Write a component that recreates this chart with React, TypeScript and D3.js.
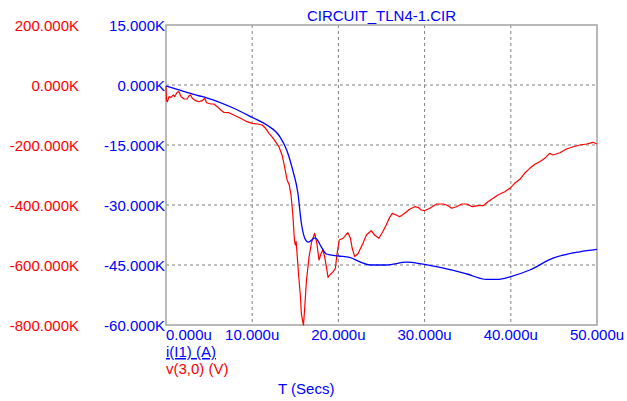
import React from "react";
import * as d3 from "d3";

// time in microseconds
const blueT = [0, 1.6, 3.9, 4.7, 7.8, 10.0, 11.7, 13.2, 14.0, 14.7, 15.3, 15.7, 16.1, 16.5, 17.3, 18.1, 18.6, 20.0, 21.3, 22.5, 23.7, 25.6, 27.9, 29.8, 32.2, 34.9, 37.2, 38.4, 40.0, 42.2, 44.9, 48.0, 50.0];
// i(I1) in K(A)
const blueI = [-0.25, -1.3, -2.75, -3.2, -5.75, -8.1, -10.0, -12.9, -16.25, -21.25, -27.0, -34.5, -38.3, -39.3, -38.2, -40.8, -42.25, -42.75, -43.1, -44.2, -45.0, -45.0, -44.3, -44.8, -45.8, -47.25, -48.6, -48.6, -47.9, -46.25, -43.3, -41.7, -41.1];

const redT = [0, 0.05, 0.15, 0.35, 0.6, 0.85, 1.0, 1.3, 1.5, 1.75, 2.1, 2.45, 2.65, 2.85, 3.05, 3.45, 3.8, 4.2, 4.5, 4.7, 5.2, 5.55, 5.95, 6.35, 6.7, 7.3, 7.85, 8.65, 9.4, 10.0, 10.6, 11.15, 11.55, 11.95, 12.35, 12.7, 13.1, 13.5, 13.75, 14.05, 14.3, 14.5, 14.7, 14.9, 15.0, 15.1, 15.2, 15.4, 15.6, 15.7, 15.9, 15.95, 16.1, 16.3, 16.6, 16.9, 17.25, 17.5, 17.75, 18.0, 18.2, 18.4, 18.6, 18.8, 19.0, 19.4, 19.65, 19.85, 20.1, 20.55, 20.85, 21.1, 21.4, 21.6, 21.9, 22.3, 22.85, 23.25, 23.8, 24.2, 24.7, 25.15, 25.55, 25.95, 26.25, 26.7, 27.1, 27.7, 28.25, 28.85, 29.25, 29.6, 30.0, 30.6, 31.4, 32.15, 32.55, 33.15, 33.7, 34.3, 34.9, 35.55, 36.2, 36.8, 37.35, 37.95, 38.5, 39.3, 39.9, 40.45, 41.05, 41.6, 42.2, 42.8, 43.35, 43.95, 44.5, 44.9, 45.7, 46.45, 47.25, 48.0, 48.8, 49.55, 50.0];
// v(3,0) in K(V)
const redV = [-3.3, -50, -55.7, -39, -41, -33, -39, -24.3, -22.3, -39, -46.7, -46.7, -36.7, -33.3, -44.3, -52.3, -55.7, -52.3, -44.3, -59, -63.3, -63.3, -72.3, -83.3, -91, -92.3, -100, -111, -122.3, -127.7, -130, -133.3, -144.3, -161, -174.3, -189, -205.7, -236.7, -272.3, -316.7, -333, -366.7, -427.7, -516.7, -533.3, -522.3, -561, -639, -705.7, -761, -794.3, -800, -739, -650, -572.3, -522.3, -494.3, -527.7, -583.3, -561, -550, -572.3, -605.7, -641, -633.3, -622.3, -611, -561, -516.7, -511, -500, -492.3, -511, -544.3, -572.3, -561, -527.7, -500, -485.7, -500, -511, -489, -466.7, -441, -427.7, -433.3, -439, -427.7, -414.3, -405.7, -407.7, -416.7, -419, -411, -396.7, -396.7, -400, -411, -405.7, -396.7, -396.7, -405.7, -402.3, -402.3, -389, -377.7, -366.7, -355.7, -344.3, -327.7, -314.3, -294.3, -277.7, -264.3, -255.7, -244.3, -227.7, -233.3, -225.7, -213.3, -205.7, -200, -196.7, -191, -196.7];

const xTicks = [0, 10, 20, 30, 40, 50];
const xTickLabels = ["0.000u", "10.000u", "20.000u", "30.000u", "40.000u", "50.000u"];
const blueTicks = [15, 0, -15, -30, -45, -60];
const blueTickLabels = ["15.000K", "0.000K", "-15.000K", "-30.000K", "-45.000K", "-60.000K"];
const redTicks = [200, 0, -200, -400, -600, -800];
const redTickLabels = ["200.000K", "0.000K", "-200.000K", "-400.000K", "-600.000K", "-800.000K"];

const title = "CIRCUIT_TLN4-1.CIR";
const blueName = "i(I1) (A)";
const redName = "v(3,0) (V)";
const xName = "T (Secs)";

const W = 627, H = 401;
const L = 166, R = 597, T = 25, B = 325;
const BLUE = "#0000ff";
const RED = "#ff0000";
const FONT = "'Liberation Sans', Arial, sans-serif";

export default function App() {
  const x = d3.scaleLinear().domain([0, 50]).range([L, R]);
  const yB = d3.scaleLinear().domain([-60, 15]).range([B, T]);
  const yR = d3.scaleLinear().domain([-800, 200]).range([B, T]);

  const blueLine = d3.line<number>().x((_, i) => x(blueT[i])).y((d) => yB(d)).curve(d3.curveMonotoneX);
  const redLine = d3.line<number>().x((_, i) => x(redT[i])).y((d) => yR(d));

  return (
    <svg width={W} height={H} style={{ position: "fixed", left: 0, top: 0, background: "#fff" }} fontFamily={FONT} fontSize={15}>
      <rect x={0} y={0} width={W} height={H} fill="#fff" />
      {/* grid */}
      {xTicks.slice(1, -1).map((t) => (
        <line key={"gx" + t} x1={x(t)} x2={x(t)} y1={T} y2={B} stroke="#808080" strokeWidth={1} strokeDasharray="3,3" />
      ))}
      {blueTicks.slice(1, -1).map((t) => (
        <line key={"gy" + t} x1={L} x2={R} y1={yB(t)} y2={yB(t)} stroke="#808080" strokeWidth={1} strokeDasharray="3,3" />
      ))}
      {/* frame */}
      <rect x={L} y={T} width={R - L} height={B - T} fill="none" stroke="#a8a8a8" strokeWidth={1.6} />
      {/* series */}
      <path d={redLine(redV) || ""} fill="none" stroke={RED} strokeWidth={1.2} strokeLinejoin="round" />
      <path d={blueLine(blueI) || ""} fill="none" stroke={BLUE} strokeWidth={1.3} strokeLinejoin="round" />
      {/* y labels */}
      {redTicks.map((t, i) => (
        <text key={"rt" + t} x={79} y={yR(t) + 5.5} textAnchor="end" fill={RED}>{redTickLabels[i]}</text>
      ))}
      {blueTicks.map((t, i) => (
        <text key={"bt" + t} x={165} y={yB(t) + 5.5} textAnchor="end" fill={BLUE}>{blueTickLabels[i]}</text>
      ))}
      {/* x labels */}
      {xTicks.map((t, i) => (
        <text key={"xt" + t} x={i === 0 ? x(t) : x(t)} y={340} textAnchor={i === 0 ? "start" : "middle"} fill={BLUE}>{xTickLabels[i]}</text>
      ))}
      <text x={(L + R) / 2} y={20.5} textAnchor="middle" fill={BLUE}>{title}</text>
      <text x={L} y={357} fill={BLUE} textDecoration="underline">{blueName}</text>
      <text x={L} y={374} fill={RED}>{redName}</text>
      <text x={278} y={394} fill={BLUE}>{xName}</text>
    </svg>
  );
}
